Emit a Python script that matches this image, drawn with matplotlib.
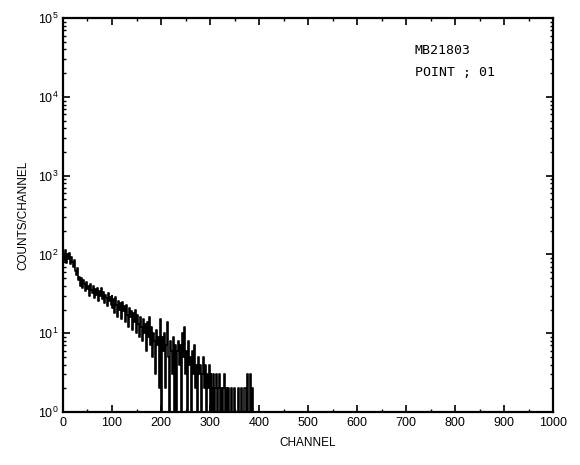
import numpy as np
import matplotlib
matplotlib.use("Agg")
import matplotlib.pyplot as plt
from matplotlib.ticker import MultipleLocator, LogLocator, NullFormatter

plt.rcParams["font.family"] = ["Liberation Sans", "DejaVu Sans"]

# counts per 2 channels (1 = empty channel, sits on the axis)
channels = np.arange(0, 400, 2)
counts = [70, 95, 82, 115, 78, 100, 88, 105, 75, 92,
          80, 70, 85, 62, 55, 68, 48, 52, 40, 50,
          38, 48, 42, 34, 45, 36, 40, 30, 42, 35,
          32, 40, 28, 36, 31, 38, 26, 34, 30, 37,
          27, 33, 24, 31, 28, 22, 32, 26, 29, 23,
          30, 21, 27, 18, 29, 23, 16, 26, 20, 24,
          15, 25, 19, 22, 14, 23, 17, 12, 21, 16,
          19, 11, 18, 14, 20, 10, 17, 13, 9, 16,
          12, 8, 15, 10, 13, 6, 14, 9, 16, 7,
          12, 5, 10, 8, 3, 11, 7, 9, 2, 15,
          8, 1, 9, 6, 10, 2, 7, 14, 5, 1,
          8, 6, 3, 9, 1, 7, 1, 6, 8, 4,
          7, 1, 10, 5, 12, 3, 6, 1, 8, 4,
          5, 1, 6, 3, 7, 2, 4, 1, 5, 3,
          4, 1, 3, 5, 2, 4, 1, 3, 2, 4,
          1, 3, 2, 1, 3, 1, 2, 3, 1, 2,
          3, 1, 2, 1, 2, 3, 1, 2, 1, 2,
          1, 1, 2, 1, 1, 2, 1, 1, 1, 2,
          1, 1, 2, 1, 1, 2, 2, 1, 3, 1,
          1, 3, 1, 2, 1, 1, 1, 1, 1, 1]
sample = "MB21803"
point = "POINT ; 01"

fig = plt.figure(figsize=(5.8, 4.65), dpi=100)
ax = fig.add_axes([0.1086, 0.114, 0.845, 0.847])

ax.step(channels, counts, where="mid", color="black", lw=1.2)

ax.set_yscale("log")
ax.set_xlim(0, 1000)
ax.set_ylim(1, 1e5)
ax.xaxis.set_major_locator(MultipleLocator(100))
ax.xaxis.set_minor_locator(MultipleLocator(50))
ax.yaxis.set_major_locator(LogLocator(base=10, numticks=10))
ax.yaxis.set_minor_locator(LogLocator(base=10, subs=np.arange(2, 10), numticks=20))
ax.yaxis.set_minor_formatter(NullFormatter())
ax.tick_params(which="both", direction="in", top=True, right=True, labelsize=9)
ax.tick_params(which="major", length=5, width=1.2)
ax.tick_params(which="minor", length=2.5, width=1)
for s in ax.spines.values():
    s.set_linewidth(1.6)

ax.set_xlabel("CHANNEL", fontsize=8.5, labelpad=6)
ax.set_ylabel("COUNTS/CHANNEL", fontsize=8.5, labelpad=6)

ax.text(0.718, 0.919, sample, transform=ax.transAxes, fontsize=9.5,
        family="DejaVu Sans Mono", va="center")
ax.text(0.718, 0.863, point, transform=ax.transAxes, fontsize=9.5,
        family="DejaVu Sans Mono", va="center")

fig.savefig("out.png", dpi=100)
